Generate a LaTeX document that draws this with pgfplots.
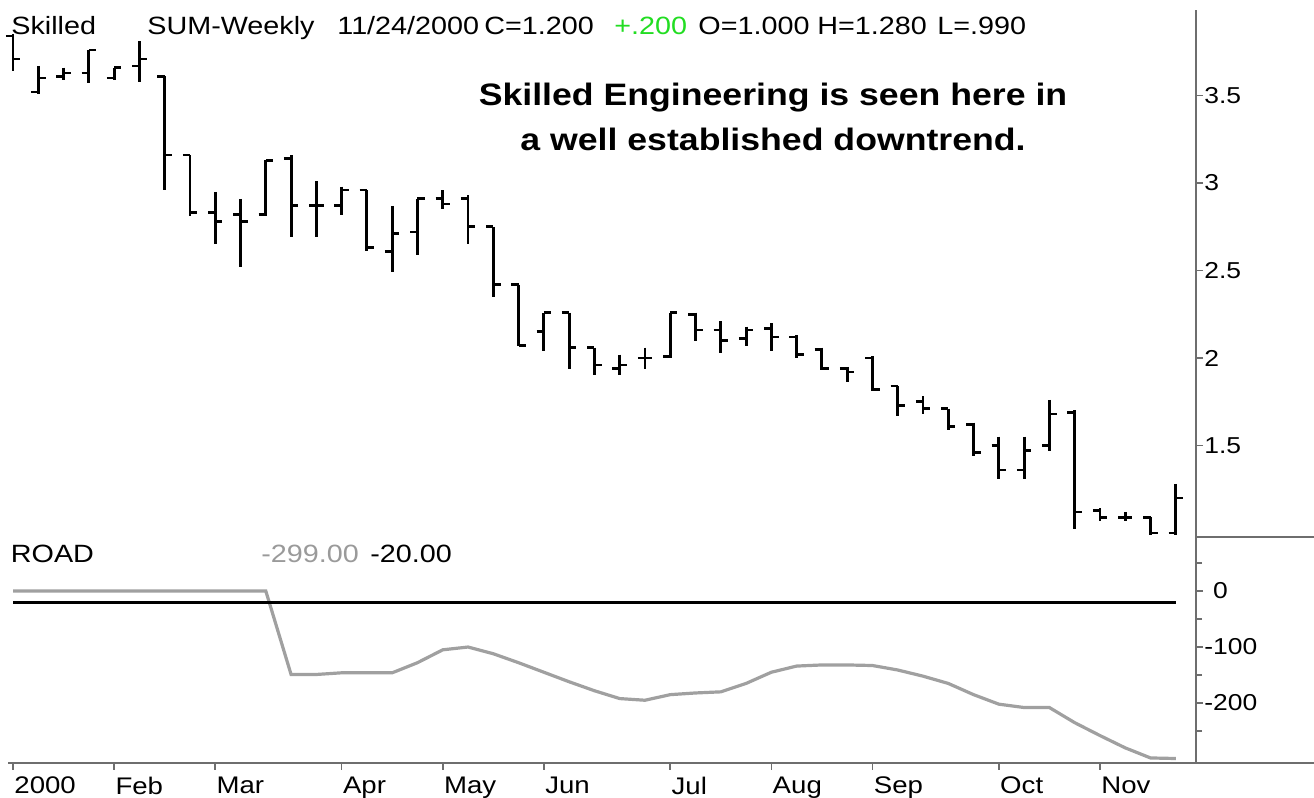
\documentclass[border=0pt]{standalone}
\usepackage{fontspec}
\setmainfont{Liberation Sans}[FakeStretch=1.15]
\usepackage{pgfplots}
\usepackage{pgfplotstable}
\pgfplotsset{compat=1.18}

\definecolor{axisgray}{HTML}{6E6E6E}
\definecolor{roadgray}{HTML}{A0A0A0}
\definecolor{lblgray}{HTML}{9A9A9A}
\definecolor{upgreen}{HTML}{22DD22}

% open tick to the left, close tick to the right
\pgfdeclareplotmark{otick}{\pgfpathmoveto{\pgfqpoint{-3.6pt}{0pt}}\pgfpathlineto{\pgfqpoint{0pt}{0pt}}\pgfusepathqstroke}
\pgfdeclareplotmark{ctick}{\pgfpathmoveto{\pgfqpoint{0pt}{0pt}}\pgfpathlineto{\pgfqpoint{3.6pt}{0pt}}\pgfusepathqstroke}

% weekly bars, week 0 = 7 Jan 2000
\pgfplotstableread{
x o h l c
0 3.84 3.85 3.64 3.71
1 3.52 3.67 3.51 3.60
2 3.61 3.66 3.59 3.63
3 3.63 3.76 3.57 3.76
4 3.60 3.66 3.59 3.66
5 3.67 3.81 3.58 3.71
6 3.61 3.61 2.96 3.16
7 3.16 3.16 2.81 2.83
8 2.83 2.95 2.65 2.78
9 2.82 2.91 2.52 2.78
10 2.82 3.13 2.81 3.13
11 3.14 3.16 2.69 2.87
12 2.87 3.01 2.69 2.87
13 2.87 2.98 2.82 2.96
14 2.96 2.96 2.61 2.63
15 2.61 2.87 2.49 2.71
16 2.72 2.91 2.59 2.91
17 2.91 2.96 2.85 2.88
18 2.91 2.93 2.65 2.75
19 2.75 2.75 2.35 2.42
20 2.42 2.42 2.07 2.07
21 2.15 2.26 2.04 2.26
22 2.26 2.26 1.94 2.06
23 2.06 2.06 1.90 1.96
24 1.94 2.02 1.90 1.96
25 2.00 2.06 1.94 2.00
26 2.01 2.26 2.00 2.26
27 2.25 2.26 2.10 2.16
28 2.16 2.21 2.03 2.10
29 2.11 2.18 2.07 2.16
30 2.17 2.20 2.04 2.12
31 2.12 2.13 2.00 2.02
32 2.05 2.06 1.93 1.94
33 1.94 1.95 1.86 1.92
34 2.00 2.01 1.81 1.82
35 1.84 1.84 1.67 1.73
36 1.75 1.78 1.68 1.71
37 1.71 1.71 1.59 1.61
38 1.62 1.63 1.44 1.46
39 1.50 1.55 1.31 1.36
40 1.36 1.55 1.31 1.47
41 1.50 1.76 1.47 1.68
42 1.69 1.70 1.02 1.12
43 1.13 1.14 1.07 1.09
44 1.09 1.12 1.07 1.09
45 1.09 1.09 0.99 1.00
46 1.00 1.28 0.99 1.20
}\ohlc

\pgfplotstableread{
x v
0 0
1 0
2 0
3 0
4 0
5 0
6 0
7 0
8 0
9 0
10 0
11 -149
12 -149
13 -146
14 -146
15 -146
16 -128
17 -105
18 -100
19 -112
20 -128
21 -145
22 -162
23 -178
24 -192
25 -195
26 -185
27 -182
28 -180
29 -165
30 -145
31 -134
32 -132
33 -132
34 -133
35 -141
36 -152
37 -165
38 -185
39 -202
40 -208
41 -208
42 -235
43 -258
44 -280
45 -298
46 -299
}\road

\begin{document}
\begin{tikzpicture}
\useasboundingbox (0,0) rectangle (657pt,399pt);

\begin{axis}[
    at={(5pt,130.5pt)}, anchor=south west,
    scale only axis, width=593pt, height=263.5pt,
    xmin=-0.12, xmax=46.8, ymin=0.977, ymax=3.989,
    axis x line=none, axis y line=right,
    axis line style={-, draw=axisgray, line width=0.9pt},
    ytick={1.5,2,2.5,3,3.5}, yticklabels={1.5,2,2.5,3,3.5},
    tick align=outside, major tick length=3.5pt,
    tick style={axisgray, line width=0.8pt},
    yticklabel style={font=\fontsize{11.5}{13}\selectfont, anchor=west, inner xsep=0.5pt},
    clip=false,
]
\addplot[black, line width=1.45pt, mark=none, quiver={u=0, v=\thisrow{l}-\thisrow{h}}] table[x=x, y=h] {\ohlc};
\addplot[black, only marks, mark=otick, mark options={line width=1.3pt}] table[x=x, y=o] {\ohlc};
\addplot[black, only marks, mark=ctick, mark options={line width=1.3pt}] table[x=x, y=c] {\ohlc};
\end{axis}

\begin{axis}[
    at={(5pt,17.5pt)}, anchor=south west,
    scale only axis, width=593pt, height=113pt,
    xmin=-0.12, xmax=46.8, ymin=-307, ymax=96.4,
    axis x line=bottom, axis y line=right,
    axis line style={-, draw=axisgray, line width=0.9pt},
    xtick={0,4,8,13,17,21,26,30,34,39,43},
    xticklabels={2000,Feb,Mar,Apr,May,Jun,Jul,Aug,Sep,Oct,Nov},
    xticklabel style={font=\fontsize{12}{14}\selectfont, anchor=north west, inner xsep=0.5pt},
    ytick={0,-100,-200}, yticklabels={\phantom{-}0,-100,-200},
    minor ytick={50,-50,-150,-250},
    tick align=outside, major tick length=3.5pt, minor tick length=3pt,
    tick style={axisgray, line width=0.8pt},
    yticklabel style={font=\fontsize{11.5}{13}\selectfont, anchor=west, inner xsep=0.5pt},
]
\addplot[roadgray, line width=1.6pt, mark=none] table[x=x, y=v] {\road};
\addplot[black, line width=1.3pt, mark=none] coordinates {(0,-20) (46,-20)};
\end{axis}

% frame pieces that run past the axes
\draw[axisgray, line width=0.9pt] (598pt,130.5pt) -- (657pt,130.5pt);
\draw[axisgray, line width=0.9pt] (4pt,17.5pt) -- (657pt,17.5pt);

% header
\begin{scope}[every node/.style={anchor=base west, inner sep=0pt, font=\fontsize{12.5}{14}\selectfont}]
\node at (5.5pt,381.5pt) {Skilled};
\node at (73.5pt,381.5pt) {SUM-Weekly};
\node at (168.5pt,381.5pt) {11/24/2000};
\node at (242pt,381.5pt) {C=1.200};
\node[text=upgreen] at (307pt,381.5pt) {+.200};
\node at (349pt,381.5pt) {O=1.000};
\node at (408.5pt,381.5pt) {H=1.280};
\node at (468.5pt,381.5pt) {L=.990};
\node at (5.25pt,117.5pt) {ROAD};
\node[text=lblgray] at (130.5pt,117.5pt) {-299.00};
\node at (185pt,117.5pt) {-20.00};
\end{scope}

\node[anchor=base, inner sep=0pt, font=\fontsize{15.5}{18}\selectfont\bfseries] at (386.5pt,346pt) {Skilled Engineering is seen here in};
\node[anchor=base, inner sep=0pt, font=\fontsize{15.5}{18}\selectfont\bfseries] at (386.5pt,323.5pt) {a well established downtrend.};
\end{tikzpicture}
\end{document}
